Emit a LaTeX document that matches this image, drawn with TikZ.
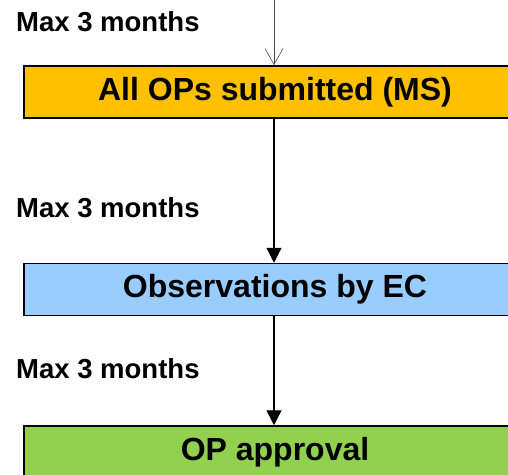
\documentclass[tikz,border=0pt]{standalone}
\usepackage{fontspec}
\setmainfont{Liberation Sans}
\usetikzlibrary{arrows.meta,positioning}
\definecolor{oporange}{HTML}{FFC000}
\definecolor{ecblue}{HTML}{99CCFF}
\definecolor{okgreen}{HTML}{92D050}

\begin{document}
\begin{tikzpicture}[
    x=1pt, y=1pt,
    stage/.style={draw, line width=1.5pt, minimum width=502pt, minimum height=52pt,
                  inner sep=0pt, font=\fontsize{32}{38}\selectfont\bfseries},
    delay/.style={anchor=west, inner sep=0pt, font=\fontsize{27.5}{33}\selectfont\bfseries},
    arr/.style={-{Triangle[length=15pt,width=15pt]}, line width=1.3pt},
    inarr/.style={-{Straight Barb[length=16pt,width=18pt]}, line width=0.6pt, black!70},
    node distance=144pt
]
\useasboundingbox (0,0) rectangle (508,-474);
% Stages
\node[stage, fill=oporange] (sub) at (275,-92) {All OPs submitted (MS)};
\node[stage, fill=ecblue, below=of sub] (obs) {Observations by EC};
\node[stage, fill=okgreen, below=109pt of obs] (appr) {OP approval};
% Delays
\node[delay] (d1) at (16,-22) {Max 3 months};
\node[delay] (d2) at (16,-208) {Max 3 months};
\node[delay] (d3) at (16,-369) {Max 3 months};
% Arrows
\coordinate (src) at (274,0);
\draw[inarr] (src) -- (src |- sub.north);
\draw[arr] (sub.south -| src) -- (obs.north -| src);
\draw[arr] (obs.south -| src) -- (appr.north -| src);
\end{tikzpicture}
\end{document}
